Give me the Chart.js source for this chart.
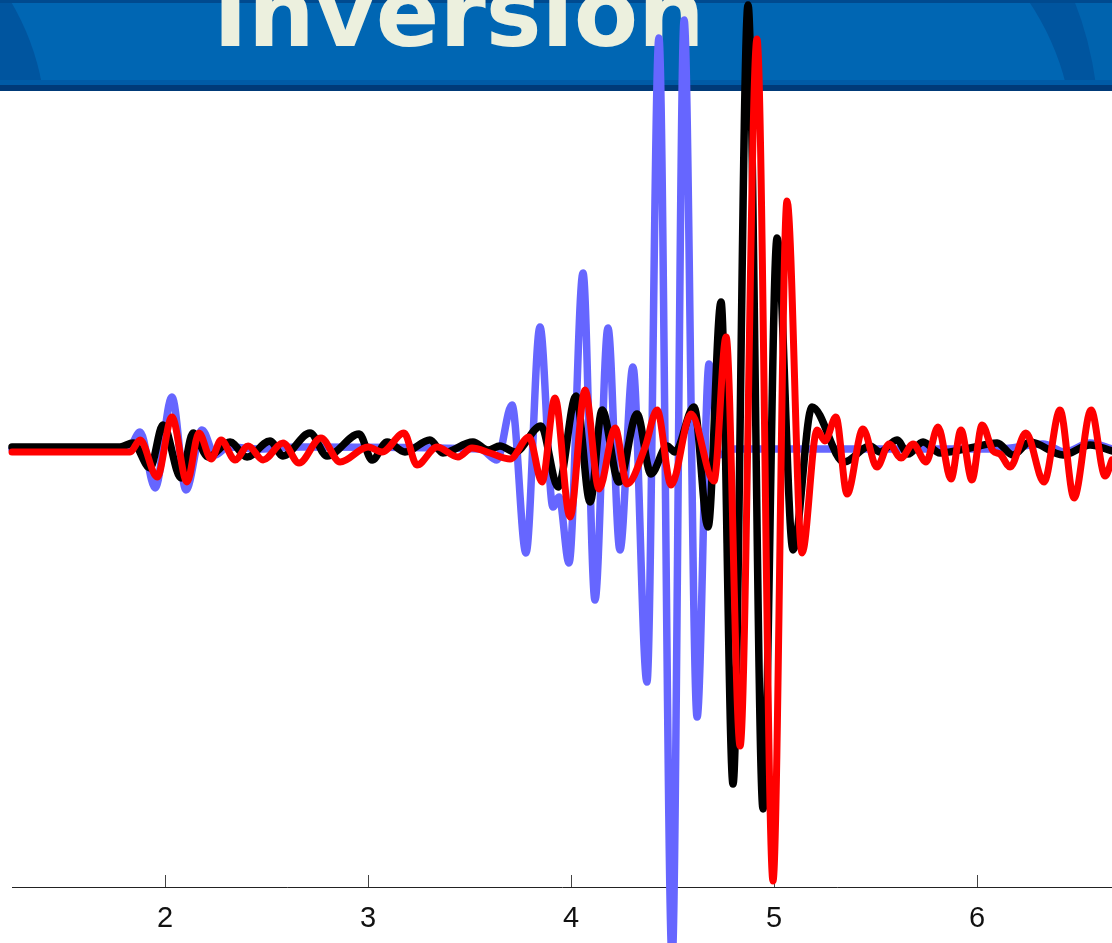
<!DOCTYPE html>
<html>
<head>
<meta charset="utf-8">
<script src="https://cdn.jsdelivr.net/npm/chart.js@4.4.0/dist/chart.umd.min.js"></script>
<style>
  html, body { margin: 0; padding: 0; background: #fff; overflow: hidden; }
  #wrap { width: 1112px; height: 943px; position: relative; }
</style>
</head>
<body>
<div id="wrap"><canvas id="traces"></canvas></div>
<script>
// time axis (s) and tick labels
const tickValues = [2, 3, 4, 5, 6];
const timeMin = 1.246, timeMax = 6.665;

// observed trace (blue)
const blueT = [1.246, 1.818, 1.877, 1.951, 2.034, 2.103, 2.182, 2.246, 2.310, 2.468, 2.665, 3.552, 3.635, 3.709, 3.778, 3.847, 3.911, 3.941, 3.990, 4.059, 4.118, 4.182, 4.241, 4.305, 4.374, 4.433, 4.498, 4.557, 4.621, 4.680, 4.729, 4.808, 6.113, 6.325, 6.433, 6.557, 6.665];
const blueA = [0, 0, 0.17, -0.39, 0.52, -0.41, 0.19, -0.06, 0.02, 0, 0.02, 0, -0.11, 0.44, -1.04, 1.22, -0.58, -0.48, -1.14, 1.76, -1.51, 1.21, -1.01, 0.82, -2.33, 4.11, -5.11, 4.29, -2.68, 0.85, -0.06, 0, 0, 0.05, -0.03, 0.06, 0];

// synthetic trace (black)
const blackT = [1.246, 1.778, 1.842, 1.926, 1.990, 2.079, 2.138, 2.212, 2.320, 2.404, 2.517, 2.581, 2.714, 2.798, 2.956, 3.020, 3.094, 3.182, 3.305, 3.369, 3.517, 3.591, 3.650, 3.724, 3.852, 3.936, 4.025, 4.094, 4.153, 4.236, 4.325, 4.394, 4.473, 4.512, 4.606, 4.675, 4.739, 4.798, 4.872, 4.946, 5.015, 5.094, 5.187, 5.345, 5.473, 5.522, 5.606, 5.660, 5.734, 5.818, 5.966, 6.099, 6.177, 6.261, 6.424, 6.557, 6.665];
const blackA = [0.02, 0.02, 0.06, -0.19, 0.24, -0.29, 0.16, -0.08, 0.07, -0.08, 0.08, -0.07, 0.16, -0.07, 0.15, -0.11, 0.07, -0.03, 0.09, -0.04, 0.07, -0.01, 0.03, -0.03, 0.23, -0.38, 0.53, -0.53, 0.39, -0.33, 0.35, -0.25, 0.03, -0.03, 0.42, -0.78, 1.47, -3.35, 4.44, -3.60, 2.11, -1.01, 0.42, -0.13, 0.03, -0.03, 0.09, -0.05, 0.07, -0.04, 0.01, 0.06, -0.06, 0.07, -0.06, 0.04, -0.02];

// inverted trace (red)
const redT = [1.246, 1.778, 1.828, 1.877, 1.961, 2.034, 2.108, 2.167, 2.227, 2.276, 2.345, 2.409, 2.483, 2.581, 2.660, 2.768, 2.862, 3.000, 3.069, 3.177, 3.241, 3.340, 3.443, 3.512, 3.601, 3.700, 3.793, 3.857, 3.921, 3.995, 4.069, 4.138, 4.217, 4.276, 4.365, 4.424, 4.493, 4.591, 4.704, 4.764, 4.833, 4.916, 4.995, 5.064, 5.138, 5.212, 5.251, 5.305, 5.360, 5.438, 5.507, 5.567, 5.626, 5.685, 5.749, 5.808, 5.872, 5.921, 5.975, 6.025, 6.079, 6.113, 6.163, 6.241, 6.330, 6.409, 6.478, 6.562, 6.631, 6.665];
const redA = [-0.03, -0.03, -0.03, 0.09, -0.28, 0.32, -0.33, 0.16, -0.10, 0.09, -0.11, 0.03, -0.11, 0.06, -0.14, 0.11, -0.13, 0.02, -0.03, 0.16, -0.16, 0.02, -0.08, 0.01, -0.04, -0.10, 0.12, -0.33, 0.51, -0.68, 0.59, -0.40, 0.21, -0.35, 0.02, 0.39, -0.36, 0.35, -0.32, 1.12, -2.97, 4.10, -4.32, 2.48, -1.04, 0.19, 0.08, 0.32, -0.45, 0.20, -0.18, 0.05, -0.09, 0.05, -0.13, 0.22, -0.30, 0.19, -0.31, 0.24, -0.02, -0.05, -0.18, 0.16, -0.33, 0.39, -0.49, 0.39, -0.27, -0.11];

const toPoints = (ts, as) => ts.map((t, i) => ({ x: t, y: as[i] }));

// slide header band behind the plot
const banner = {
  id: 'banner',
  beforeDraw(chart) {
    const ctx = chart.ctx;
    ctx.save();
    ctx.fillStyle = '#0066b3';
    ctx.fillRect(0, 0, 1112, 91);
    // curved shading at both ends
    ctx.fillStyle = '#00559f';
    ctx.beginPath();
    ctx.moveTo(0, 0); ctx.lineTo(10, 0);
    ctx.quadraticCurveTo(34, 40, 42, 85); ctx.lineTo(0, 85);
    ctx.fill();
    ctx.beginPath();
    ctx.moveTo(1028, 0); ctx.quadraticCurveTo(1055, 40, 1066, 85);
    ctx.lineTo(1112, 85); ctx.lineTo(1112, 0);
    ctx.fill();
    ctx.fillStyle = '#0063ae';
    ctx.beginPath();
    ctx.moveTo(1074, 0); ctx.quadraticCurveTo(1090, 40, 1096, 85);
    ctx.lineTo(1112, 85); ctx.lineTo(1112, 0);
    ctx.fill();
    ctx.fillStyle = '#004a8f';
    ctx.fillRect(0, 0, 1112, 3);
    ctx.fillStyle = '#005ba6';
    ctx.fillRect(0, 80, 1112, 5);
    ctx.fillStyle = '#003a78';
    ctx.fillRect(0, 85, 1112, 6);
    // title, cut off by the top edge
    let size = 94;
    ctx.font = 'bold ' + size + 'px "DejaVu Sans"';
    size = size * 492 / ctx.measureText('Inversion').width;
    ctx.font = 'bold ' + size.toFixed(1) + 'px "DejaVu Sans"';
    ctx.fillStyle = '#ecf0de';
    ctx.textBaseline = 'alphabetic';
    ctx.fillText('Inversion', 213, 46);
    ctx.restore();
  }
};

const lineStyle = {
  pointRadius: 0,
  fill: false,
  clip: false,
  cubicInterpolationMode: 'monotone',
  borderJoinStyle: 'round',
  borderCapStyle: 'round'
};

new Chart(document.getElementById('traces'), {
  type: 'line',
  data: {
    datasets: [
      { ...lineStyle, label: 'Observed', data: toPoints(blueT, blueA), borderColor: '#6666ff', borderWidth: 7.5, order: 3 },
      { ...lineStyle, label: 'Initial', data: toPoints(blackT, blackA), borderColor: '#000000', borderWidth: 7.5, order: 2 },
      { ...lineStyle, label: 'Inverted', data: toPoints(redT, redA), borderColor: '#ff0000', borderWidth: 7, order: 1 }
    ]
  },
  options: {
    responsive: true,
    maintainAspectRatio: false,
    animation: false,
    devicePixelRatio: 1,
    layout: { padding: { left: 12, right: 0, top: 11, bottom: 0 } },
    plugins: { legend: { display: false }, tooltip: { enabled: false } },
    scales: {
      x: {
        type: 'linear',
        position: 'bottom',
        min: timeMin,
        max: timeMax,
        afterBuildTicks: s => { s.ticks = tickValues.map(v => ({ value: v })); },
        afterFit: s => { s.height = 56; },
        grid: { drawOnChartArea: false, drawTicks: true, tickLength: -12, color: '#444', lineWidth: 1 },
        border: { display: true, color: '#222', width: 1 },
        ticks: {
          color: '#111',
          padding: 27,
          maxRotation: 0,
          font: { family: '"Liberation Sans", Arial, sans-serif', size: 29 }
        }
      },
      y: { display: false, min: -4.38, max: 4.38 }
    }
  },
  plugins: [banner]
});
</script>
</body>
</html>
